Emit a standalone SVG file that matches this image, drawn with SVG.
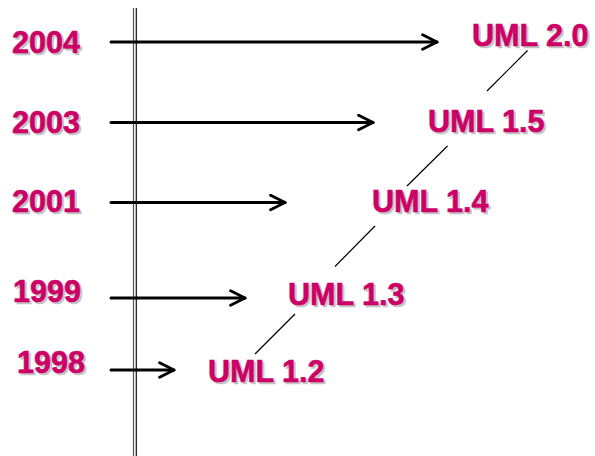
<svg xmlns="http://www.w3.org/2000/svg" width="595" height="456" viewBox="0 0 595 456">
  <style>
    text { font-family: "Liberation Sans", Arial, sans-serif; font-weight: bold; stroke-width: 0.6; }
    .lbl { fill: #CC0066; stroke: #CC0066; }
    .shadow { fill: #C4C4C4; stroke: #C4C4C4; }
    .year { font-size: 30.5px; }
    .ver { font-size: 30.5px; }
    .arrow { stroke: #000; stroke-width: 3; fill: none; stroke-linecap: round; stroke-linejoin: round; }
    .link { stroke: #000; stroke-width: 1.2; fill: none; }
  </style>
  <defs>
    <marker id="head" viewBox="0 0 10 10" refX="9" refY="5" markerWidth="6" markerHeight="6" markerUnits="strokeWidth" orient="auto">
      <path d="M1,1 L9,5 L1,9" fill="none" stroke="#000" stroke-width="1.6" stroke-linecap="round" stroke-linejoin="round"/>
    </marker>
  </defs>

  <rect width="595" height="456" fill="#fff"/>

  <!-- time axis: double vertical rule -->
  <g id="axis">
    <line x1="133.5" y1="8" x2="133.5" y2="456" stroke="#555" stroke-width="1.2"/>
    <line x1="136.3" y1="8" x2="136.3" y2="456" stroke="#111" stroke-width="1.2"/>
  </g>

  <!-- year labels (grey copy offset behind as a drop shadow) -->
  <g id="y2004">
    <text class="shadow year" x="14" y="54.5">2004</text>
    <text class="lbl year" x="12" y="52.5">2004</text>
  </g>
  <g id="y2003">
    <text class="shadow year" x="14" y="134.5">2003</text>
    <text class="lbl year" x="12" y="132.5">2003</text>
  </g>
  <g id="y2001">
    <text class="shadow year" x="14" y="213.5">2001</text>
    <text class="lbl year" x="12" y="211.5">2001</text>
  </g>
  <g id="y1999">
    <text class="shadow year" x="15" y="303.5">1999</text>
    <text class="lbl year" x="13" y="301.5">1999</text>
  </g>
  <g id="y1998">
    <text class="shadow year" x="19" y="374.5">1998</text>
    <text class="lbl year" x="17" y="372.5">1998</text>
  </g>

  <!-- UML versions -->
  <g id="uml20">
    <text class="shadow ver" x="474" y="48">UML 2.0</text>
    <text class="lbl ver" x="472" y="46">UML 2.0</text>
  </g>
  <g id="uml15">
    <text class="shadow ver" x="430" y="133.5">UML 1.5</text>
    <text class="lbl ver" x="428" y="131.5">UML 1.5</text>
  </g>
  <g id="uml14">
    <text class="shadow ver" x="374" y="213.5">UML 1.4</text>
    <text class="lbl ver" x="372" y="211.5">UML 1.4</text>
  </g>
  <g id="uml13">
    <text class="shadow ver" x="290" y="306.5">UML 1.3</text>
    <text class="lbl ver" x="288" y="304.5">UML 1.3</text>
  </g>
  <g id="uml12">
    <text class="shadow ver" x="210" y="383.5">UML 1.2</text>
    <text class="lbl ver" x="208" y="381.5">UML 1.2</text>
  </g>

  <!-- connectors -->
  <g id="connectors">
    <line class="arrow" x1="111" y1="42" x2="437" y2="42" marker-end="url(#head)"/>
    <line class="arrow" x1="111" y1="122.5" x2="373" y2="122.5" marker-end="url(#head)"/>
    <line class="arrow" x1="111" y1="202.5" x2="285" y2="202.5" marker-end="url(#head)"/>
    <line class="arrow" x1="111" y1="298" x2="245" y2="298" marker-end="url(#head)"/>
    <line class="arrow" x1="111" y1="370" x2="174" y2="370" marker-end="url(#head)"/>

    <line class="link" x1="527.5" y1="50.5" x2="487" y2="91"/>
    <line class="link" x1="447.5" y1="146" x2="407" y2="186"/>
    <line class="link" x1="375" y1="226" x2="335" y2="266.5"/>
    <line class="link" x1="295" y1="314" x2="255" y2="354"/>
  </g>
</svg>
